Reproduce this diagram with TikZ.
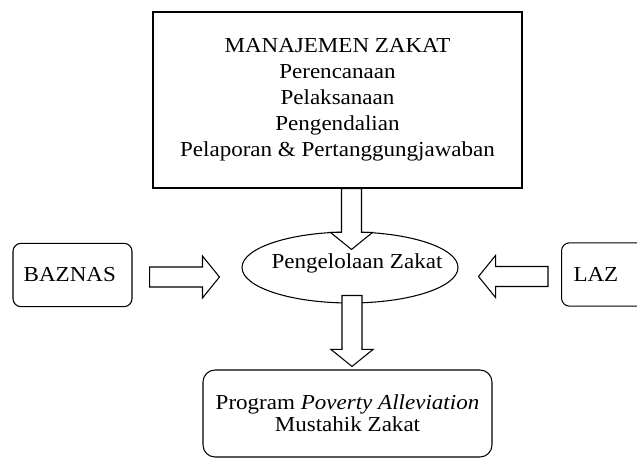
\documentclass[tikz,border=0pt]{standalone}
\usepackage{fontspec}
\setmainfont{Liberation Serif}[FakeStretch=1.08]
\usetikzlibrary{calc,shapes.geometric}

\begin{document}
\begin{tikzpicture}[x=0.75pt,y=0.75pt,yscale=-1,xscale=1,
    every node/.style={font=\fontsize{16}{19.5}\selectfont, line width=0.8pt},
    sidebox/.style={draw, rounded corners=6pt, minimum height=47.5pt},
    fatarrow/.style={draw, fill=white, line width=0.8pt, line join=miter,
      to path={
        ($(\tikztostart)!7.5pt!90:(\tikztotarget)$)
        -- ($(\tikztotarget)!12.75pt!(\tikztostart)!7.5pt!-90:(\tikztostart)$)
        -- ($(\tikztotarget)!12.75pt!(\tikztostart)!15.75pt!-90:(\tikztostart)$)
        -- (\tikztotarget)
        -- ($(\tikztotarget)!12.75pt!(\tikztostart)!15.75pt!90:(\tikztostart)$)
        -- ($(\tikztotarget)!12.75pt!(\tikztostart)!7.5pt!90:(\tikztostart)$)
        -- ($(\tikztostart)!7.5pt!-90:(\tikztotarget)$)
        -- cycle}}]
        \useasboundingbox (0,0) rectangle (637,459);
        \clip (0,0) rectangle (637,459);

        %Shape: Rectangle [manajemen]
        \node [draw, line width=1pt, minimum width=276.75pt, minimum height=132pt, align=center] (mgmt) at (337.5,100)
            {MANAJEMEN ZAKAT\\ Perencanaan\\ Pelaksanaan\\ Pengendalian\\ Pelaporan \& Pertanggungjawaban};
        %Shape: Ellipse [pengelolaan]
        \node [draw, ellipse, inner sep=0pt, minimum width=162pt, minimum height=53.25pt,
            label={[xshift=5.25pt, yshift=3pt]center:Pengelolaan Zakat}] (zak) at (350,267.5) {};
        %Shape: Rounded Rect [baznas]
        \node [sidebox, minimum width=89.25pt] (baz) at (72.5,275) {BAZNAS\hspace*{4pt}};
        %Shape: Rounded Rect [laz]
        \node [sidebox, anchor=west, inner xsep=9pt, text width=52.5pt, align=left] (laz) at (561,274.5) {LAZ};
        %Shape: Rounded Rect [program]
        \node [draw, rounded corners=9pt, minimum width=216.75pt, minimum height=65.25pt, align=center,
            font=\fontsize{16}{16.5}\selectfont] (prog) at (347.5,413.5)
            {Program \textit{Poverty Alleviation}\\ Mustahik Zakat};

        % Block Arrows
        \coordinate (a1) at ($(mgmt.south -| zak.north)+(1.5,0)$);
        \coordinate (b1) at ($(zak.north)+(1.5,18)$);
        \coordinate (a2) at ($(zak.south)+(2,-8)$);
        \coordinate (b2) at ($(prog.north -| zak.south)+(2,-3)$);
        \coordinate (a3) at ($(baz.east)+(17,2)$);
        \coordinate (b3) at ($(zak.west |- baz.east)+(-22,2)$);
        \coordinate (a4) at ($(laz.west)+(-13,2)$);
        \coordinate (b4) at ($(zak.east |- laz.west)+(20,2)$);
        \draw [fatarrow] (a1) to (b1);
        \draw [fatarrow] (a2) to (b2);
        \draw [fatarrow] (a3) to (b3);
        \draw [fatarrow] (a4) to (b4);

        \end{tikzpicture}
\end{document}
